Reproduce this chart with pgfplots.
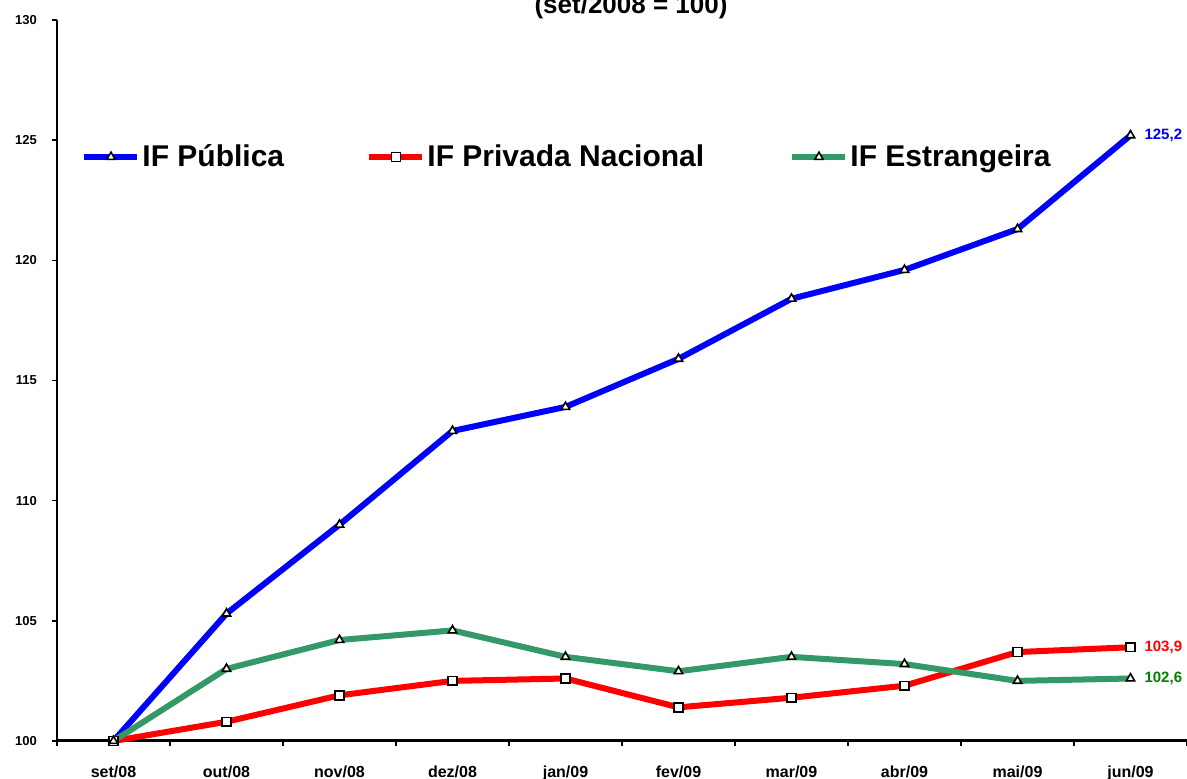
\documentclass[border=0pt]{standalone}
\usepackage{pgfplots}
\pgfplotsset{compat=1.18}
\usepackage{fontspec}
\setmainfont{Liberation Sans}
\definecolor{ifblue}{RGB}{0,0,255}
\definecolor{ifred}{RGB}{255,0,0}
\definecolor{ifgreen}{RGB}{51,153,102}
\definecolor{lblgreen}{RGB}{0,128,0}
\begin{document}
\begin{tikzpicture}
\begin{axis}[
  scale only axis,
  width=565pt, height=360.5pt,
  xmin=-0.5, xmax=9.5,
  ymin=100, ymax=130,
  clip=false,
  axis x line*=bottom, axis y line*=left,
  x axis line style={line width=1.5pt},
  y axis line style={line width=1pt},
  tick style={black, line width=0.8pt},
  tick align=outside,
  major tick length=2.5pt,
  ytick={100,105,...,130},
  xtick={-0.5,0.5,...,9.5},
  xticklabels={},
  extra x ticks={0,1,2,3,4,5,6,7,8,9},
  extra x tick labels={set/08,out/08,nov/08,dez/08,jan/09,fev/09,mar/09,abr/09,mai/09,jun/09},
  extra x tick style={major tick length=0pt, xticklabel style={yshift=-9pt, font=\fontsize{8}{9}\selectfont\bfseries}},
  yticklabel style={xshift=-4pt, font=\fontsize{6.5}{7}\selectfont\bfseries},
  /pgf/number format/assume math mode=true,
  legend columns=3,
  legend style={at={(0.016,0.81)}, anchor=west, draw=none, fill=none,
    font=\fontsize{15}{18}\selectfont\bfseries, nodes={inner sep=1pt}, cells={anchor=west}},
  legend image code/.code={\draw[mark repeat=2, mark phase=2] plot coordinates {(0pt,0pt) (13.25pt,0pt) (26.5pt,0pt)};},
]
\addplot[ifblue, line width=3pt, mark=triangle*, mark size=2.4pt,
  mark options={fill=white, draw=black, line width=0.8pt, solid}]
  coordinates {(0,100) (1,105.3) (2,109.0) (3,112.9) (4,113.9) (5,115.9) (6,118.4) (7,119.6) (8,121.3) (9,125.2)};
\addlegendentry{\makebox[111pt][l]{IF Pública}}
\addplot[ifred, line width=3pt, mark=square*, mark size=2.2pt,
  mark options={fill=white, draw=black, line width=0.8pt, solid}]
  coordinates {(0,100) (1,100.8) (2,101.9) (3,102.5) (4,102.6) (5,101.4) (6,101.8) (7,102.3) (8,103.7) (9,103.9)};
\addlegendentry{\makebox[180pt][l]{IF Privada Nacional}}
\addplot[ifgreen, line width=3pt, mark=triangle*, mark size=2.4pt,
  mark options={fill=white, draw=black, line width=0.8pt, solid}]
  coordinates {(0,100) (1,103.0) (2,104.2) (3,104.6) (4,103.5) (5,102.9) (6,103.5) (7,103.2) (8,102.5) (9,102.6)};
\addlegendentry{IF Estrangeira}
\node[anchor=west, xshift=3.5pt, text=ifblue, font=\fontsize{7.5}{9}\selectfont\bfseries] at (axis cs:9,125.2) {125,2};
\node[anchor=west, xshift=3.5pt, text=ifred, font=\fontsize{7.5}{9}\selectfont\bfseries] at (axis cs:9,103.9) {103,9};
\node[anchor=west, xshift=3.5pt, text=lblgreen, font=\fontsize{7.5}{9}\selectfont\bfseries] at (axis cs:9,102.6) {102,6};
\node[anchor=base, yshift=3pt, font=\fontsize{13}{15}\selectfont\bfseries] at (rel axis cs:0.508,1) {(set/2008 = 100)};
\coordinate (BL) at (rel axis cs:0,0);
\coordinate (TR) at (rel axis cs:1,1);
\end{axis}
\pgfresetboundingbox
\path[use as bounding box] ([shift={(-28.5pt,-19pt)}]BL) rectangle ([shift={(0pt,10pt)}]TR);
\end{tikzpicture}
\end{document}
